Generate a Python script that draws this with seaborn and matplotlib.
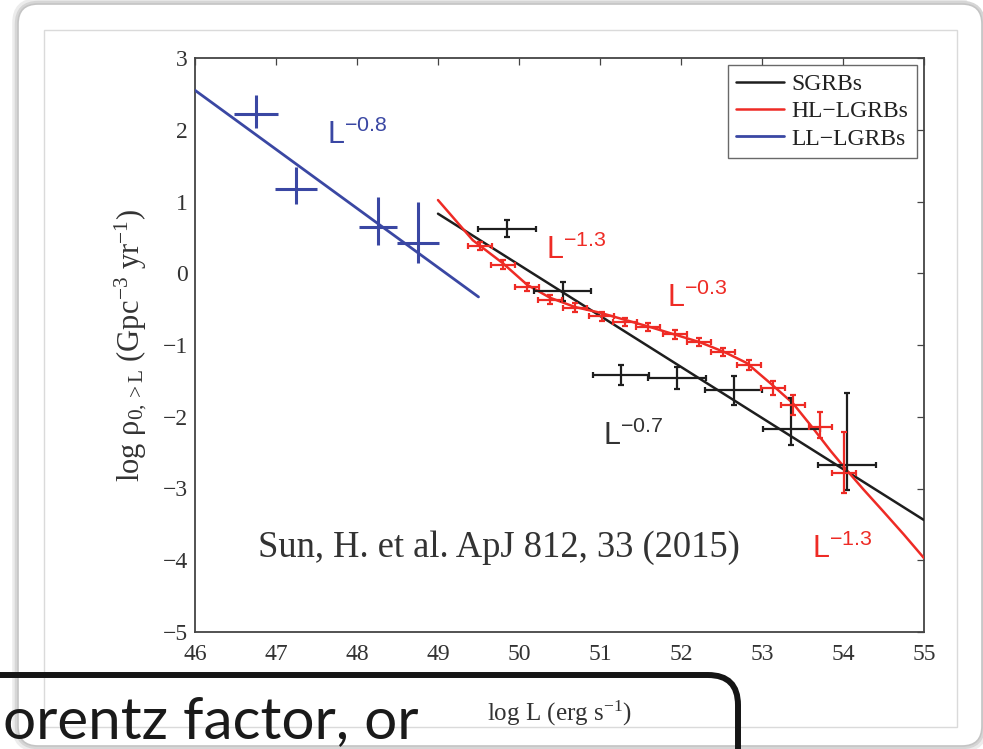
import matplotlib
matplotlib.use("Agg")
import matplotlib.pyplot as plt
import seaborn as sns
import pandas as pd
from matplotlib.patches import FancyBboxPatch, Rectangle
from matplotlib.transforms import IdentityTransform

# ---------------- data ----------------
# LL-LGRBs
ll_x = [46.75, 47.25, 48.26, 48.75]
ll_y = [2.22, 1.17, 0.64, 0.42]
ll_xerr = [0.27, 0.26, 0.23, 0.26]
ll_yerr_lo = [0.20, 0.20, 0.25, 0.28]
ll_yerr_hi = [0.26, 0.31, 0.42, 0.57]
ll_fit_x = [46.0, 49.5]
ll_fit_y = [2.55, -0.33]

# SGRBs
sg_x = [49.85, 50.54, 51.26, 51.95, 52.65, 53.36, 54.05]
sg_y = [0.62, -0.25, -1.42, -1.46, -1.63, -2.17, -2.67]
sg_xerr = [0.36, 0.35, 0.35, 0.36, 0.35, 0.35, 0.36]
sg_yerr_lo = [0.12, 0.13, 0.14, 0.15, 0.20, 0.22, 0.35]
sg_yerr_hi = [0.12, 0.13, 0.14, 0.15, 0.20, 0.43, 1.00]
sg_fit_x = [49.0, 55.0]
sg_fit_y = [0.83, -3.44]

# HL-LGRBs
hl_x = [49.52, 49.80, 50.10, 50.38, 50.69, 51.02, 51.31, 51.59,
        51.93, 52.22, 52.52, 52.84, 53.14, 53.38, 53.72, 54.01]
hl_y = [0.38, 0.12, -0.19, -0.37, -0.48, -0.60, -0.68, -0.75,
        -0.85, -0.96, -1.10, -1.28, -1.60, -1.84, -2.14, -2.78]
hl_xerr = [0.15, 0.15, 0.15, 0.15, 0.15, 0.15, 0.15, 0.15,
           0.15, 0.15, 0.15, 0.15, 0.15, 0.15, 0.14, 0.15]
hl_yerr_lo = [0.06, 0.06, 0.06, 0.06, 0.06, 0.06, 0.06, 0.06,
              0.06, 0.06, 0.06, 0.07, 0.10, 0.14, 0.15, 0.28]
hl_yerr_hi = [0.06, 0.06, 0.06, 0.06, 0.06, 0.06, 0.06, 0.06,
              0.06, 0.06, 0.06, 0.07, 0.10, 0.14, 0.20, 0.57]
hl_fit_x = [49.00, 49.43, 49.80, 50.10, 50.38, 50.69, 51.00, 51.62, 52.23,
            52.54, 52.81, 53.10, 53.38, 53.63, 53.85, 54.02, 54.25, 54.49, 54.75, 55.00]
hl_fit_y = [1.02, 0.46, 0.14, -0.16, -0.34, -0.47, -0.55, -0.75, -0.96,
            -1.10, -1.25, -1.53, -1.81, -2.16, -2.48, -2.71, -3.01, -3.31, -3.64, -3.97]

series_labels = ["SGRBs", "HL\u2212LGRBs", "LL\u2212LGRBs"]
x_ticks = [46, 47, 48, 49, 50, 51, 52, 53, 54, 55]
y_ticks = [-5, -4, -3, -2, -1, 0, 1, 2, 3]

# ---------------- style ----------------
sns.set_theme(style="white")
plt.rcParams["font.family"] = ["Liberation Serif", "DejaVu Serif"]
plt.rcParams["mathtext.fontset"] = "custom"
plt.rcParams["mathtext.rm"] = "Liberation Serif"
plt.rcParams["mathtext.it"] = "Liberation Serif:italic"
plt.rcParams["mathtext.sf"] = "Liberation Sans"

BLUE = "#3a47a3"
RED = "#ee2b25"
BLACK = "#1e1e1e"

W, H = 983, 749
fig = plt.figure(figsize=(W / 100, H / 100), dpi=100)
fig.patch.set_facecolor("white")

def px(x, y):
    return x, H - y

# slide panel with soft shadow
for off, col, lw in [(3, "#ececec", 4), (1.5, "#d6d6d6", 2.5)]:
    p = FancyBboxPatch(px(18 - off, 746 + off), 964 + 2 * off, 742 + 2 * off,
                       boxstyle="round,pad=0,rounding_size=22",
                       transform=IdentityTransform(), facecolor="none",
                       edgecolor=col, lw=lw, zorder=-3)
    fig.add_artist(p)
panel = FancyBboxPatch(px(18, 746), 964, 742, boxstyle="round,pad=0,rounding_size=20",
                       transform=IdentityTransform(), facecolor="white",
                       edgecolor="#c4c4c4", lw=1.2, zorder=-2)
fig.add_artist(panel)
inner = Rectangle(px(44, 727), 913, 697, transform=IdentityTransform(),
                  facecolor="white", edgecolor="#dadada", lw=1.0, zorder=-1)
fig.add_artist(inner)

ax = fig.add_axes([195 / W, (H - 632) / H, (924 - 195) / W, (632 - 58) / H])
ax.set_facecolor("white")

# fit lines
sns.lineplot(x=sg_fit_x, y=sg_fit_y, ax=ax, color=BLACK, lw=1.8,
             label=series_labels[0], sort=False, estimator=None, zorder=3)
sns.lineplot(x=hl_fit_x, y=hl_fit_y, ax=ax, color=RED, lw=1.8,
             label=series_labels[1], sort=False, estimator=None, zorder=3)
sns.lineplot(x=ll_fit_x, y=ll_fit_y, ax=ax, color=BLUE, lw=2.0,
             label=series_labels[2], sort=False, estimator=None, zorder=3)

# data with error bars
ax.errorbar(ll_x, ll_y, xerr=ll_xerr, yerr=[ll_yerr_lo, ll_yerr_hi], fmt="none",
            ecolor=BLUE, elinewidth=2.2, capsize=0, zorder=4)
ax.errorbar(sg_x, sg_y, xerr=sg_xerr, yerr=[sg_yerr_lo, sg_yerr_hi], fmt="none",
            ecolor=BLACK, elinewidth=1.6, capsize=2.5, capthick=1.6, zorder=4)
ax.errorbar(hl_x, hl_y, xerr=hl_xerr, yerr=[hl_yerr_lo, hl_yerr_hi], fmt="none",
            ecolor=RED, elinewidth=1.6, capsize=2.5, capthick=1.6, zorder=5)

ax.set_xlim(46, 55)
ax.set_ylim(-5, 3)
ax.set_xticks(x_ticks)
ax.set_yticks(y_ticks)
ax.tick_params(direction="in", top=True, right=True, length=5, width=0.9,
               color="#444444", labelsize=17, labelcolor="#333333")
ax.tick_params(axis="x", pad=9)
ax.tick_params(axis="y", pad=5)
for s in ax.spines.values():
    s.set_color("#444444")
    s.set_linewidth(1.3)

ax.set_xlabel(r"log L (erg s$^{-1}$)", fontsize=18, color="#333333", labelpad=24)
ax.set_ylabel(r"log $\mathrm{\rho_{0,>L}}$ (Gpc$^{-3}$ yr$^{-1}$)", fontsize=22,
              color="#333333", labelpad=10)

# power-law annotations
ann = [
    (47.63, 1.80, r"$\mathsf{L^{-0.8}}$", BLUE),
    (50.33, 0.20, r"$\mathsf{L^{-1.3}}$", RED),
    (51.83, -0.47, r"$\mathsf{L^{-0.3}}$", RED),
    (51.04, -2.39, r"$\mathsf{L^{-0.7}}$", "#333333"),
    (53.62, -3.97, r"$\mathsf{L^{-1.3}}$", RED),
]
for x, y, s, c in ann:
    ax.text(x, y, s, color=c, fontsize=22, ha="left", va="baseline", zorder=6)

ax.text(46.78, -3.95, "Sun, H. et al. ApJ 812, 33 (2015)", fontsize=26.3,
        color="#333333", ha="left", va="baseline", zorder=6)

leg = ax.legend(loc="upper right", fontsize=17, frameon=True, fancybox=False,
                borderaxespad=0.3, handlelength=2.0, handletextpad=0.35,
                labelspacing=0.25, borderpad=0.35)
leg.get_frame().set_edgecolor("#444444")
leg.get_frame().set_linewidth(1.0)
for t in leg.get_texts():
    t.set_color("#222222")

# slide text box (overlapping)
box = FancyBboxPatch(px(-60, 800), 798, 125, boxstyle="round,pad=0,rounding_size=30",
                     transform=IdentityTransform(), facecolor="none",
                     edgecolor="#151515", lw=4.3, zorder=10)
fig.add_artist(box)
fig.text(3 / W, (H - 738) / H, "orentz factor, or", fontsize=42,
         family=["Lato", "DejaVu Sans"], color="#1a1a1a", ha="left", va="baseline",
         zorder=11)

fig.savefig("out.png", dpi=100)
